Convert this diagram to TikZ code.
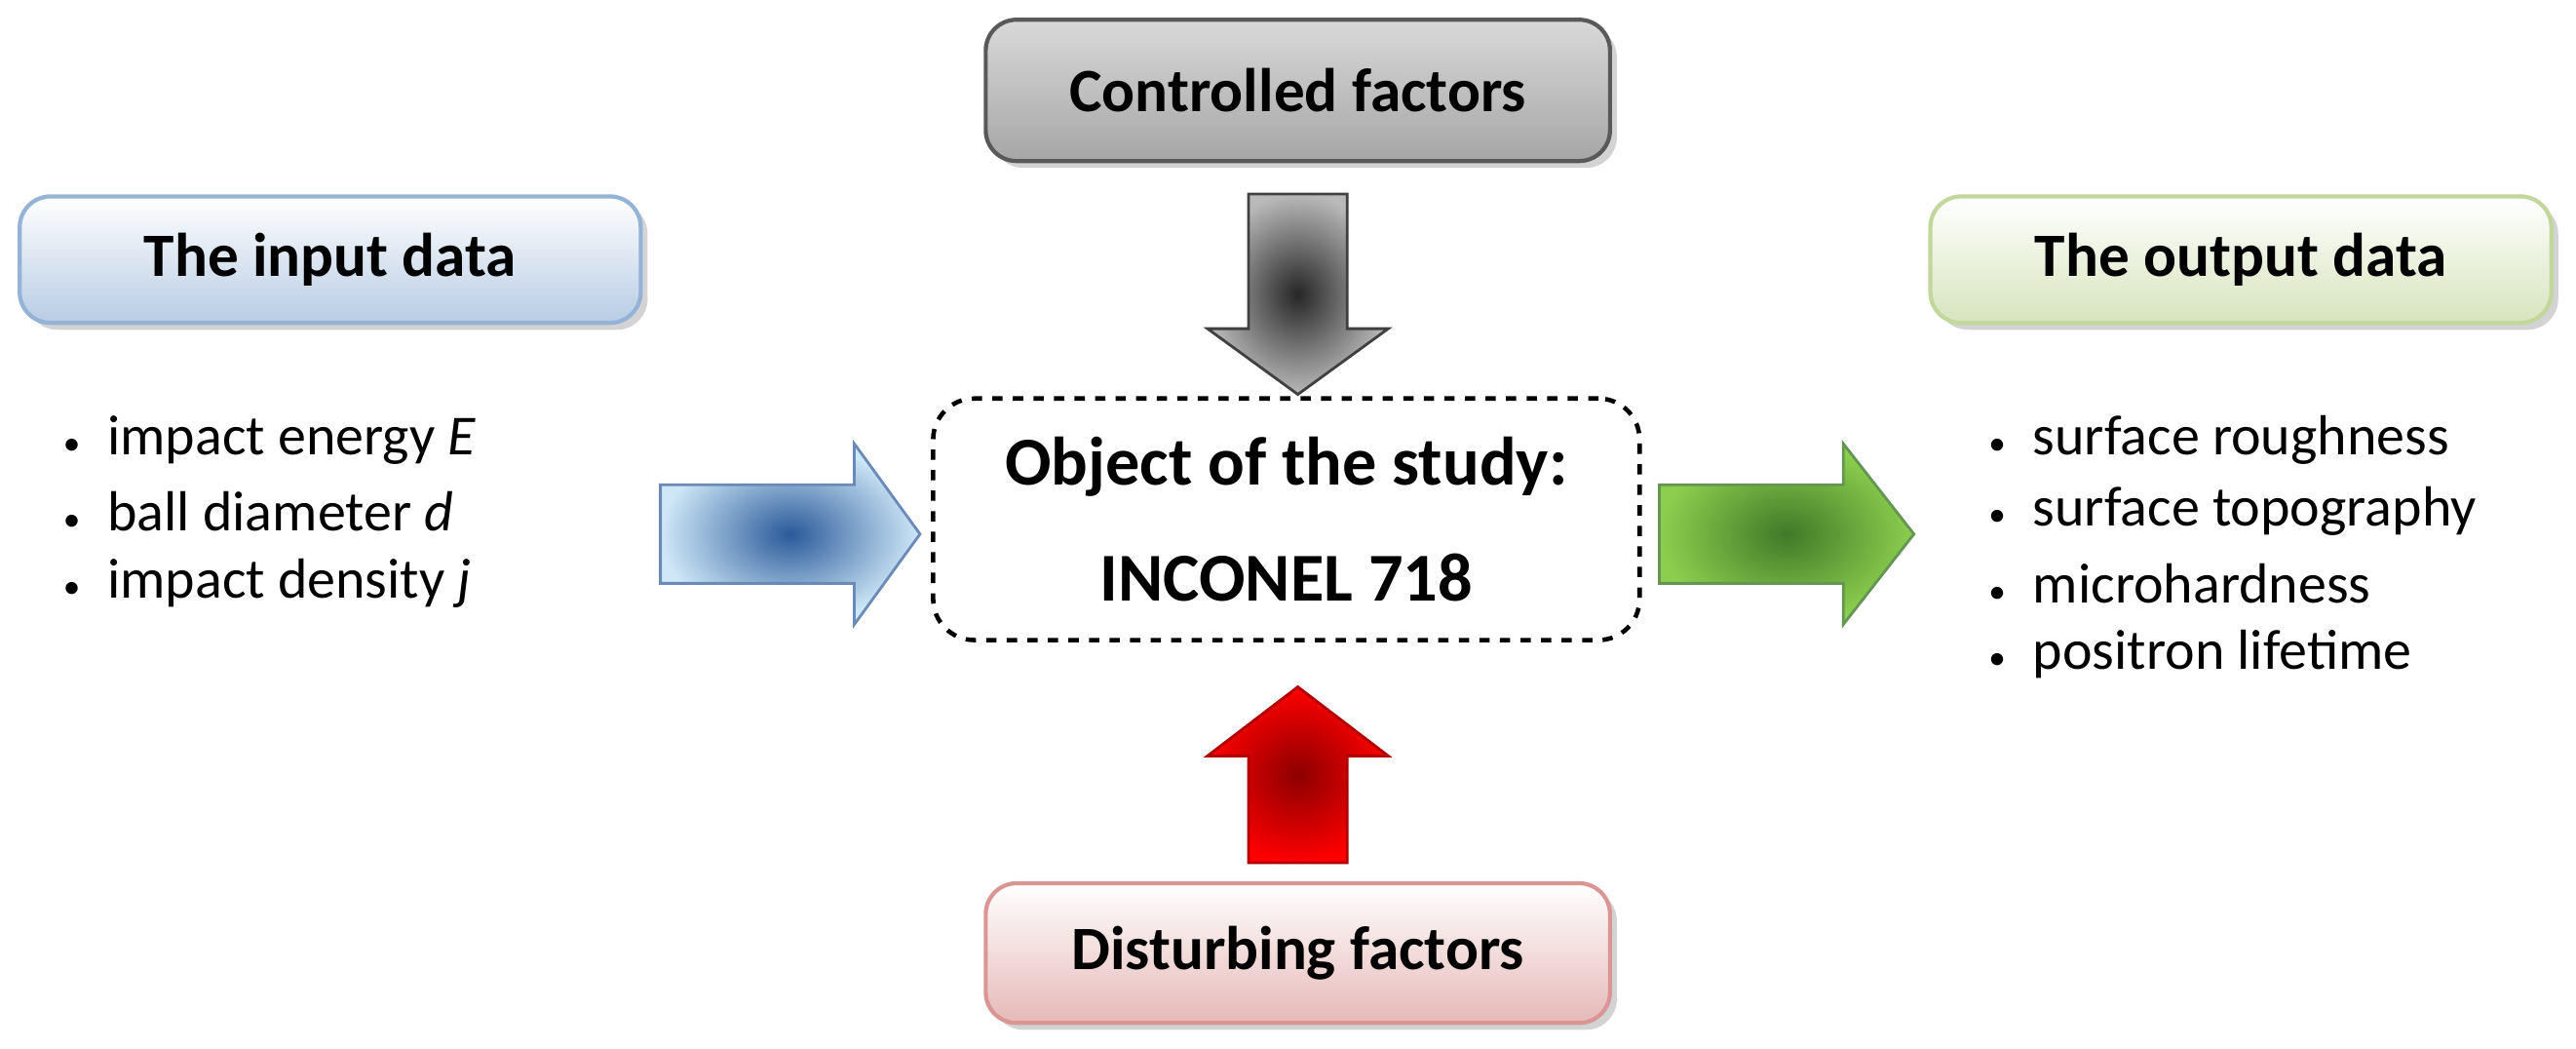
\documentclass[tikz,border=0pt]{standalone}
\usepackage{fontspec}
\setmainfont{Carlito}
\usetikzlibrary{shadows}
\definecolor{bluebd}{HTML}{95B3D7}
\definecolor{bluefl}{HTML}{B8CCE4}
\definecolor{greenbd}{HTML}{C3D69B}
\definecolor{greenfl}{HTML}{D7E4BD}
\definecolor{redbd}{HTML}{D99694}
\definecolor{redfl}{HTML}{E6B9B8}
\definecolor{arrblue}{HTML}{2A5A9A}
\definecolor{arrbluel}{HTML}{CFE8F8}
\definecolor{arrgreen}{HTML}{3F7A28}
\definecolor{arrgreenl}{HTML}{8CCF4E}
\begin{document}
\begin{tikzpicture}[x=0.01686cm,y=-0.01686cm,
 box/.style={draw, rounded corners=9pt, line width=1.2pt, drop shadow={opacity=0.35,shadow xshift=2pt,shadow yshift=-2pt}, font=\bfseries\fontsize{18}{22}\selectfont},
 item/.style={anchor=west, font=\fontsize{16.5}{20}\selectfont, inner sep=0pt}]
\useasboundingbox (0,0) rectangle (1568,638);
% boxes
\node[box, draw=gray!70!black, top color=gray!30, bottom color=gray!70, minimum width=380*0.01686cm, minimum height=86*0.01686cm] (ctrl) at (790,55) {Controlled factors};
\node[box, draw=bluebd, top color=white, bottom color=bluefl, minimum width=378*0.01686cm, minimum height=77*0.01686cm] (in) at (201,158) {The input data};
\node[box, draw=greenbd, top color=white, bottom color=greenfl, minimum width=378*0.01686cm, minimum height=77*0.01686cm] (out) at (1364,158) {The output data};
\node[box, draw=redbd, top color=white, bottom color=redfl, minimum width=380*0.01686cm, minimum height=85*0.01686cm] (dist) at (790,580) {Disturbing factors};
\node[draw, dashed, line width=1.3pt, rounded corners=12pt, minimum width=430*0.01686cm, minimum height=147*0.01686cm, align=center, font=\bfseries\fontsize{20}{34}\selectfont] (obj) at (783,316) {Object of the study:\\INCONEL 718};
% arrows
\path[inner color=gray!30!black, outer color=gray!55] (760,118) -- (820,118) -- (820,200) -- (845,200) -- (790,240) -- (735,200) -- (760,200) -- cycle;
\draw[gray!50!black, line width=0.8pt] (760,118) -- (820,118) -- (820,200) -- (845,200) -- (790,240) -- (735,200) -- (760,200) -- cycle;
\path[inner color=red!55!black, outer color=red] (760,525) -- (820,525) -- (820,460) -- (845,460) -- (790,418) -- (735,460) -- (760,460) -- cycle;
\draw[red!70!black, line width=0.8pt] (760,525) -- (820,525) -- (820,460) -- (845,460) -- (790,418) -- (735,460) -- (760,460) -- cycle;
\path[inner color=arrblue, outer color=arrbluel] (402,295) -- (520,295) -- (520,270) -- (560,325) -- (520,380) -- (520,355) -- (402,355) -- cycle;
\draw[arrblue!70, line width=0.8pt] (402,295) -- (520,295) -- (520,270) -- (560,325) -- (520,380) -- (520,355) -- (402,355) -- cycle;
\path[inner color=arrgreen, outer color=arrgreenl] (1010,295) -- (1122,295) -- (1122,270) -- (1165,325) -- (1122,380) -- (1122,355) -- (1010,355) -- cycle;
\draw[arrgreen!80, line width=0.8pt] (1010,295) -- (1122,295) -- (1122,270) -- (1165,325) -- (1122,380) -- (1122,355) -- (1010,355) -- cycle;
% lists
\newcommand{\bul}{{\fontsize{10}{10}\selectfont\textbullet}\hspace{8pt}}
\node[item] (i1) at (38,268) {\bul impact energy \textit{E}};
\node[item] (i2) at (38,311) {\bul ball diameter \textit{d}};
\node[item] (i3) at (38,355) {\bul impact density \textit{j}};
\node[item] (o1) at (1210,268) {\bul surface roughness};
\node[item] (o2) at (1210,311) {\bul surface topography};
\node[item] (o3) at (1210,355) {\bul microhardness};
\node[item] (o4) at (1210,398) {\bul positron lifetime};
\end{tikzpicture}
\end{document}
